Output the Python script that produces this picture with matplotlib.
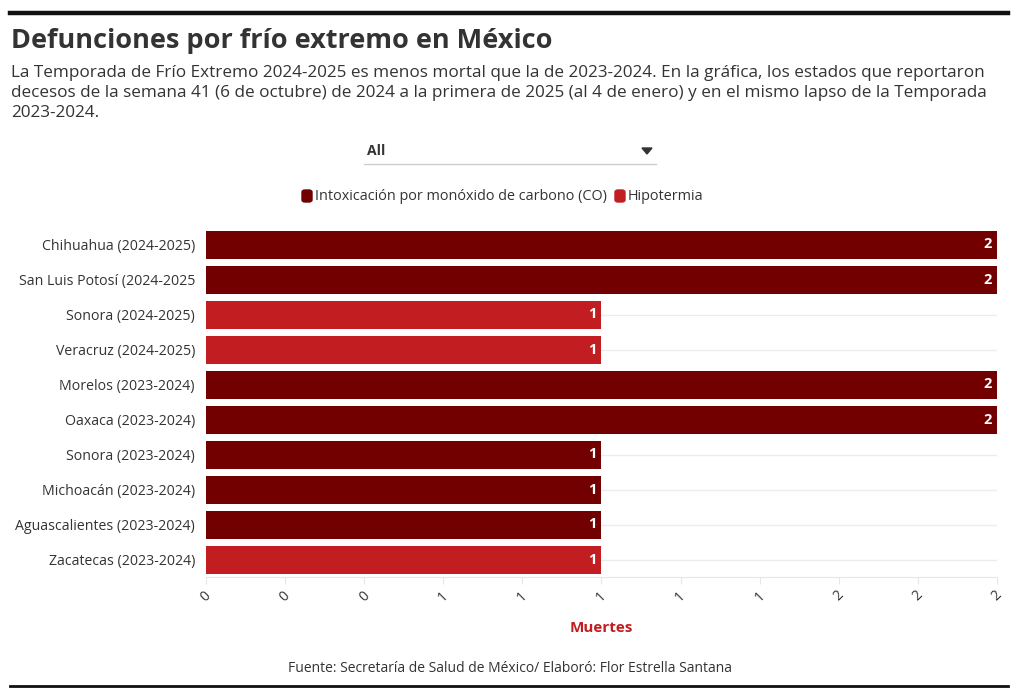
import matplotlib
matplotlib.use('Agg')
import matplotlib.pyplot as plt
from matplotlib.lines import Line2D
from matplotlib.patches import FancyBboxPatch, Polygon

states = [
    'Chihuahua (2024-2025)',
    'San Luis Potosí (2024-2025',
    'Sonora (2024-2025)',
    'Veracruz (2024-2025)',
    'Morelos (2023-2024)',
    'Oaxaca (2023-2024)',
    'Sonora (2023-2024)',
    'Michoacán (2023-2024)',
    'Aguascalientes (2023-2024)',
    'Zacatecas (2023-2024)',
]
deaths = [2, 2, 1, 1, 2, 2, 1, 1, 1, 1]
causes = ['CO', 'CO', 'Hipotermia', 'Hipotermia', 'CO', 'CO', 'CO', 'CO', 'CO', 'Hipotermia']
cause_labels = {'CO': 'Intoxicación por monóxido de carbono (CO)', 'Hipotermia': 'Hipotermia'}
x_ticks = [0, 0.2, 0.4, 0.6, 0.8, 1.0, 1.2, 1.4, 1.6, 1.8, 2.0]

colors = {'CO': '#730000', 'Hipotermia': '#c21e21'}
TEXT = '#333333'
W, H = 1020, 698

plt.rcParams['font.family'] = ['Open Sans', 'DejaVu Sans']

fig = plt.figure(figsize=(W / 100, H / 100), dpi=100)


def fx(px):
    return px / W


def fy(py):
    return 1 - py / H


# top and bottom rules
fig.add_artist(Line2D([fx(10), fx(1008)], [fy(13), fy(13)], color='#111111', lw=3.2))
fig.add_artist(Line2D([fx(10), fx(1008)], [fy(686), fy(686)], color='#111111', lw=2))

fig.text(fx(11), fy(41), 'Defunciones por frío extremo en México', fontsize=19.5,
         fontweight='bold', color=TEXT, va='center')
subtitle = ('La Temporada de Frío Extremo 2024-2025 es menos mortal que la de 2023-2024. En la gráfica, los estados que reportaron\n'
            'decesos de la semana 41 (6 de octubre) de 2024 a la primera de 2025 (al 4 de enero) y en el mismo lapso de la Temporada\n'
            '2023-2024.')
fig.text(fx(11), fy(65), subtitle, fontsize=12.3, color=TEXT, va='top', linespacing=1.32)

# dropdown
fig.text(fx(367), fy(151), 'All', fontsize=10, fontweight='bold', color=TEXT, va='center')
fig.add_artist(Line2D([fx(364), fx(656)], [fy(164), fy(164)], color='#cccccc', lw=1))
fig.add_artist(Polygon([[fx(642), fy(148)], [fx(652), fy(148)], [fx(647), fy(154)]],
                       closed=True, color='#333333', transform=fig.transFigure))

# legend
order = ['CO', 'Hipotermia']
lx = [302, 615]
for key, x0 in zip(order, lx):
    fig.add_artist(FancyBboxPatch((fx(x0), fy(202)), fx(10), 12 / H,
                                  boxstyle='round,pad=0,rounding_size=0.003',
                                  color=colors[key], transform=fig.transFigure))
    fig.text(fx(x0 + 13), fy(196), cause_labels[key], fontsize=10.4, color=TEXT, va='center')

ax = fig.add_axes([fx(206), fy(577), fx(997) - fx(206), (577 - 227) / H])
ypos = list(range(len(states)))
ax.barh(ypos, deaths, height=0.8, color=[colors[c] for c in causes], zorder=2)
for y, v in zip(ypos, deaths):
    ax.text(v - 0.012, y, str(v), color='white', fontweight='bold', fontsize=10.5,
            ha='right', va='center', zorder=3)

ax.set_xlim(0, 2)
ax.set_ylim(len(states) - 0.5, -0.5)
ax.set_yticks(ypos)
ax.set_yticklabels(states, fontsize=10.2, color=TEXT)
ax.set_xticks(x_ticks)
ax.set_xticklabels(['%.0f' % t for t in x_ticks], rotation=45, fontsize=10, color=TEXT,
                   ha='center', va='top')
ax.tick_params(axis='y', length=0, pad=8)
ax.tick_params(axis='x', length=5, color='#e6e6e6', pad=3)
ax.grid(axis='y', color='#ececec', lw=1, zorder=0)
for side in ['top', 'right', 'left']:
    ax.spines[side].set_visible(False)
ax.spines['bottom'].set_color('#e6e6e6')

ax.set_xlabel('Muertes', fontsize=11, fontweight='bold', color='#c21e21', labelpad=12)

fig.text(0.5, fy(669), 'Fuente: Secretaría de Salud de México/ Elaboró: Flor Estrella Santana',
         fontsize=10, color=TEXT, ha='center', va='center')

fig.savefig('out.png', dpi=100)
